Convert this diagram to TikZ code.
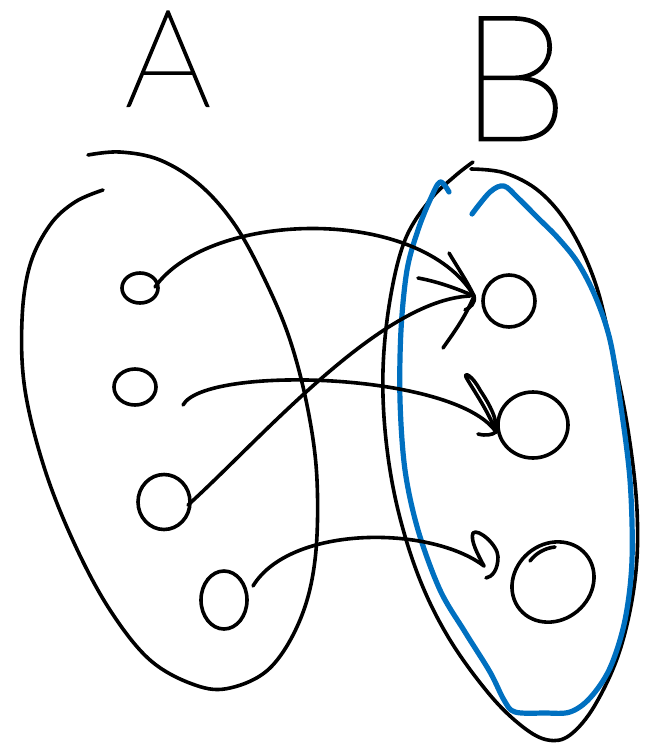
\documentclass[tikz,border=0pt]{standalone}
\usepackage{fontspec}
\usetikzlibrary{shapes.geometric}
\IfFontExistsTF{Lato Hairline}{\newfontfamily\letterfont[FakeBold=1.6]{Lato Hairline}}{\newfontfamily\letterfont{Liberation Sans}}
\definecolor{penblue}{RGB}{0,112,192}
\tikzset{
  pen/.style={line width=3.6pt, line cap=round, line join=round, black},
  bluepen/.style={line width=5.2pt, line cap=round, line join=round, penblue},
  dot/.style={draw, ellipse, line width=3.6pt, inner sep=0pt},
  letter/.style={inner sep=0pt, anchor=base, text height=0.72em, text depth=0pt}
}
\begin{document}
\begin{tikzpicture}[x=1pt,y=-1pt]
\useasboundingbox (0,0) rectangle (651,745);
% letters
\node[letter, font=\letterfont\fontsize{135}{135}\selectfont] (la) at (168,106) {A};
\node[letter, font=\letterfont\fontsize{175}{175}\selectfont] (lb) at (514,140) {B};
% set A outline
\draw[pen] plot[smooth, tension=0.6] coordinates {(88,155) (120,152) (160,160) (200,185) (235,225) (265,280) (290,340) (308,410) (317,480) (315,560) (300,620) (270,668) (230,688) (195,685) (150,660) (110,610) (75,545) (45,470) (25,390) (22,320) (30,265) (50,225) (75,202) (103,190)};
% set B outline
\draw[pen] plot[smooth, tension=0.6] coordinates {(471,169) (505,173) (540,192) (570,228) (595,282) (612,350) (628,430) (637,510) (635,580) (620,650) (595,705) (570,735) (548,740) (523,727) (490,695) (450,640) (420,580) (398,510) (386,440) (383,370) (390,300) (405,240) (430,200) (455,176) (473,162)};
% blue outline
\draw[bluepen] plot[smooth, tension=0.55] coordinates {(449,192) (440,182) (430,200) (418,230) (407,270) (401,330) (400,400) (405,470) (418,530) (440,590) (465,632) (490,672) (504,700) (515,712) (545,713) (570,712) (590,698) (610,668) (625,620) (632,560) (630,480) (620,400) (610,340) (596,298) (578,263) (558,238) (538,218) (518,198) (504,186) (490,192) (472,214)};
% elements of A
\node[dot, minimum width=36pt, minimum height=30pt] (a1) at (140,288) {};
\node[dot, minimum width=42pt, minimum height=36pt] (a2) at (135,387) {};
\node[dot, minimum width=52pt, minimum height=55pt] (a3) at (164,502) {};
\node[dot, minimum width=46pt, minimum height=58pt] (a4) at (224,600) {};
% elements of B
\node[dot, minimum width=52pt, minimum height=52pt] (b1) at (509,301) {};
\node[dot, minimum width=70pt, minimum height=66pt] (b2) at (533,425) {};
\node[dot, minimum width=86pt, minimum height=76pt, rotate=40] (b3) at (553,582) {};
\draw[pen] (530,561) .. controls (536,553) and (545,548) .. (555,547);
% connector end points
\coordinate (s1) at (155,287);
\coordinate (e1) at (474,296);
\coordinate (s2) at (183,405);
\coordinate (e2) at (496,432);
\coordinate (s3) at (188,505);
\coordinate (e3) at (470,296);
\coordinate (s4) at (253,586);
\coordinate (e4) at (484,566);
% connectors
\draw[pen] (s1) .. controls (210,210) and (420,205) .. (e1);
\draw[pen] (s2) .. controls (205,365) and (455,372) .. (e2);
\draw[pen] (s3) .. controls (260,440) and (380,300) .. (e3);
\draw[pen] (s4) .. controls (290,525) and (430,525) .. (e4);
% arrowhead at b1
\draw[pen] (418,278) .. controls (440,282) and (460,290) .. (e1);
\draw[pen] (449,253) .. controls (458,268) and (468,283) .. (e1);
\draw[pen] (e1) .. controls (476,303) and (470,308) .. (465,310);
\draw[pen] (443,348) .. controls (452,335) and (465,318) .. (e1);
% arrowhead at b2
\draw[pen] (e2) .. controls (488,410) and (470,385) .. (466,377) .. controls (464,372) and (472,375) .. (480,390) .. controls (490,405) and (498,420) .. (e2);
\draw[pen] (478,434) .. controls (486,436) and (492,435) .. (e2);
% arrowhead at b3
\draw[pen] (e4) .. controls (478,555) and (470,540) .. (473,533) .. controls (478,528) and (498,545) .. (498,557) .. controls (498,570) and (492,577) .. (486,578);
\end{tikzpicture}
\end{document}
